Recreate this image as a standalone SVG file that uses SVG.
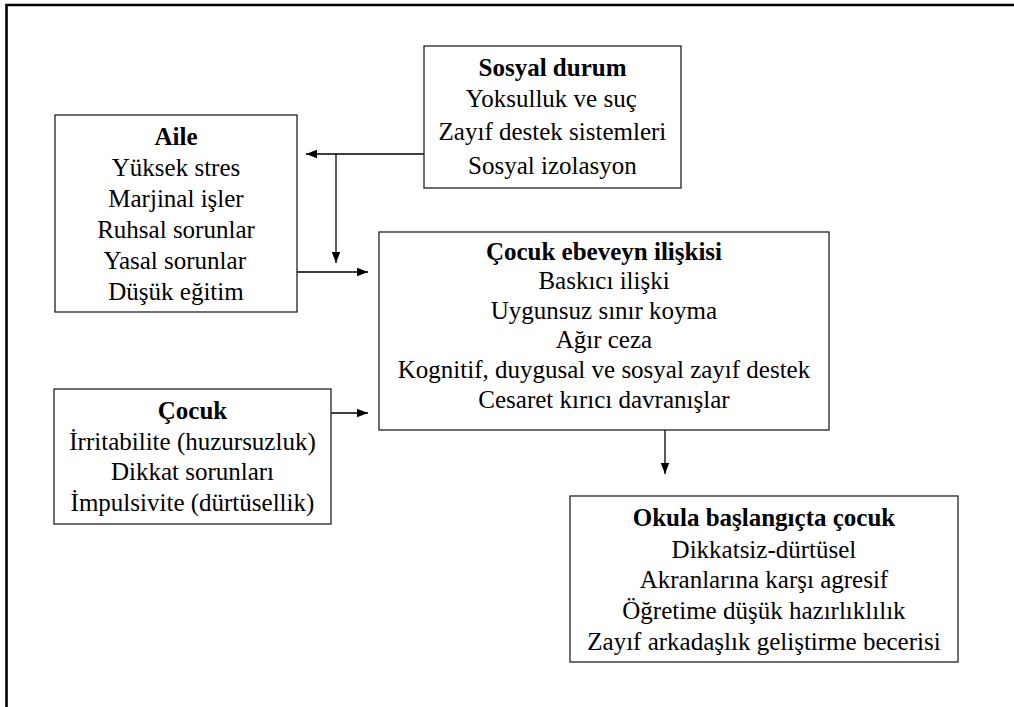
<svg xmlns="http://www.w3.org/2000/svg" width="1014" height="707" viewBox="0 0 1014 707">
<style>
.box{fill:#fff;stroke:#222;stroke-width:1.3}
.tx{font-family:'Liberation Serif',serif;font-size:25px;fill:#000}
.t{font-weight:bold}
.c{fill:none;stroke:#000;stroke-width:1.3}
</style>
<defs>
<marker id="ah" markerUnits="userSpaceOnUse" markerWidth="12" markerHeight="10" viewBox="0 0 12 10" refX="11" refY="5" orient="auto">
<path d="M0,0.8 L11,5 L0,9.2 Z" fill="#000"/>
</marker>
</defs>
<rect width="1014" height="707" fill="#fff"/>
<path d="M6.5,707 V5 H1014" fill="none" stroke="#000" stroke-width="2.6"/>
<g id="connectors">
<path class="c" d="M424,154 H306" marker-end="url(#ah)"/>
<path class="c" d="M336,154 V263" marker-end="url(#ah)"/>
<path class="c" d="M297,272 H368" marker-end="url(#ah)"/>
<path class="c" d="M329,413 H368" marker-end="url(#ah)"/>
<path class="c" d="M665,430 V474" marker-end="url(#ah)"/>
</g>
<g id="sosyal-durum">
<rect class="box" x="424" y="46" width="257" height="142"/>
<text class="tx t" font-family="Liberation Serif" x="478.5" y="76">Sosyal durum</text>
<text class="tx" font-family="Liberation Serif" x="465.7" y="107">Yoksulluk ve suç</text>
<text class="tx" font-family="Liberation Serif" x="438.6" y="140">Zayıf destek sistemleri</text>
<text class="tx" font-family="Liberation Serif" x="468.1" y="174">Sosyal izolasyon</text>
</g>
<g id="aile">
<rect class="box" x="55" y="115" width="242" height="197"/>
<text class="tx t" font-family="Liberation Serif" x="154.5" y="145">Aile</text>
<text class="tx" font-family="Liberation Serif" x="111.8" y="176">Yüksek stres</text>
<text class="tx" font-family="Liberation Serif" x="108.3" y="207">Marjinal işler</text>
<text class="tx" font-family="Liberation Serif" x="97.2" y="238">Ruhsal sorunlar</text>
<text class="tx" font-family="Liberation Serif" x="103.4" y="269">Yasal sorunlar</text>
<text class="tx" font-family="Liberation Serif" x="108.3" y="300">Düşük eğitim</text>
</g>
<g id="cocuk-ebeveyn">
<rect class="box" x="379" y="232" width="450" height="198"/>
<text class="tx t" font-family="Liberation Serif" x="485.9" y="260">Çocuk ebeveyn ilişkisi</text>
<text class="tx" font-family="Liberation Serif" x="538.4" y="289">Baskıcı ilişki</text>
<text class="tx" font-family="Liberation Serif" x="490.8" y="319">Uygunsuz sınır koyma</text>
<text class="tx" font-family="Liberation Serif" x="555.7" y="348">Ağır ceza</text>
<text class="tx" font-family="Liberation Serif" x="397.8" y="378">Kognitif, duygusal ve sosyal zayıf destek</text>
<text class="tx" font-family="Liberation Serif" x="478.3" y="408">Cesaret kırıcı davranışlar</text>
</g>
<g id="cocuk">
<rect class="box" x="54" y="389" width="277" height="135"/>
<text class="tx t" font-family="Liberation Serif" x="157.8" y="419">Çocuk</text>
<text class="tx" font-family="Liberation Serif" x="69.3" y="450">İrritabilite (huzursuzluk)</text>
<text class="tx" font-family="Liberation Serif" x="110.9" y="480">Dikkat sorunları</text>
<text class="tx" font-family="Liberation Serif" x="70.6" y="511">İmpulsivite (dürtüsellik)</text>
</g>
<g id="okula-baslangic">
<rect class="box" x="570" y="496" width="388" height="166"/>
<text class="tx t" font-family="Liberation Serif" x="632.7" y="526">Okula başlangıçta çocuk</text>
<text class="tx" font-family="Liberation Serif" x="671.6" y="558">Dikkatsiz-dürtüsel</text>
<text class="tx" font-family="Liberation Serif" x="639.7" y="588">Akranlarına karşı agresif</text>
<text class="tx" font-family="Liberation Serif" x="622.3" y="619">Öğretime düşük hazırlıklılık</text>
<text class="tx" font-family="Liberation Serif" x="587.3" y="650">Zayıf arkadaşlık geliştirme becerisi</text>
</g>
</svg>
